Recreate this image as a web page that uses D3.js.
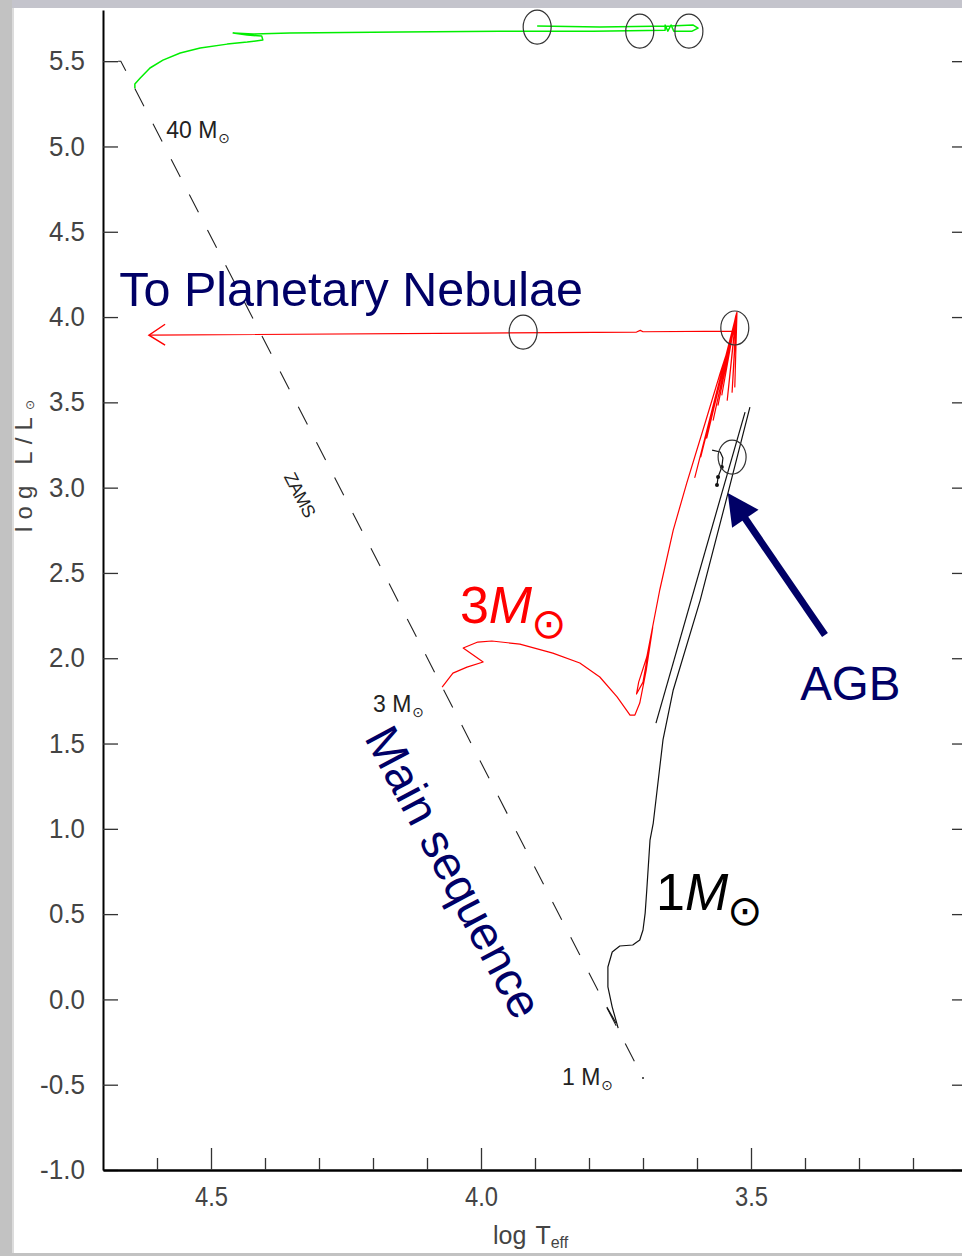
<!DOCTYPE html>
<html><head><meta charset="utf-8">
<script src="https://cdn.jsdelivr.net/npm/d3@7"></script>
<style>
html,body{margin:0;padding:0;background:#fff;}
svg{display:block;}
</style></head>
<body><svg id="c" width="962" height="1256"></svg>
<script>
// ---------- data (log Teff, log L/Lsun) ----------
const yTicks = [-1.0,-0.5,0.0,0.5,1.0,1.5,2.0,2.5,3.0,3.5,4.0,4.5,5.0,5.5];
const xMajorTicks = [4.5,4.0,3.5];
const xMinorTicks = [4.6,4.4,4.3,4.2,4.1,3.9,3.8,3.7,3.6,3.4,3.3,3.2];

const zams = [[4.672,5.5],[4.667,5.5],[3.700,-0.461]];

const greenTrack = [[4.641,5.342],[4.641,5.366],[4.631,5.401],[4.613,5.460],[4.589,5.506],[4.557,5.548],
  [4.520,5.577],[4.470,5.600],[4.433,5.612],[4.404,5.624],[4.406,5.647],[4.433,5.653],[4.459,5.665],
  [4.422,5.659],[4.354,5.665],[4.150,5.671],[3.965,5.676],[3.793,5.676],[3.659,5.682],[3.659,5.712],
  [3.654,5.676],[3.648,5.712],[3.643,5.676],[3.609,5.676],[3.598,5.694],[3.607,5.712],[3.650,5.706],
  [3.780,5.700],[3.896,5.706]];

const redTrack = [[4.072,1.831],[4.052,1.913],[4.026,1.948],[3.996,1.978],[4.033,2.060],[4.006,2.095],
  [3.980,2.101],[3.928,2.083],[3.867,2.030],[3.817,1.972],[3.780,1.890],[3.748,1.773],[3.724,1.667],
  [3.715,1.667],[3.706,1.737],[3.694,1.930],[3.682,2.180],[3.690,2.040],[3.700,1.860],[3.712,1.790],
  [3.708,1.860],[3.693,2.007],[3.669,2.400],[3.644,2.751],[3.619,3.027],[3.585,3.379],[3.557,3.672],
  [3.533,3.906],[3.526,4.029],
  [3.604,3.060],[3.527,4.015],[3.593,3.180],[3.528,4.006],[3.582,3.290],[3.527,4.020],[3.570,3.396],
  [3.528,4.010],[3.561,3.484],[3.527,4.020],[3.554,3.543],[3.528,4.006],[3.544,3.513],[3.527,4.020],
  [3.535,3.560],[3.526,4.025],[3.530,3.590],[3.526,4.029],
  [3.530,3.918],[3.700,3.914],[3.705,3.922],[3.712,3.912],[4.000,3.906],[4.613,3.894]];

const redArrowHead = [[4.585,3.958],[4.615,3.894],[4.585,3.836]];

const blackTrack = [[3.746,-0.168],[3.757,-0.045],[3.765,0.073],[3.765,0.190],[3.757,0.278],[3.743,0.313],
  [3.719,0.319],[3.706,0.348],[3.700,0.407],[3.696,0.506],[3.693,0.641],[3.687,0.934],[3.681,1.034],
  [3.663,1.521],[3.644,1.814],[3.594,2.341],[3.546,2.927],[3.502,3.472]];
const blackPreMS = [[3.767,-0.045],[3.750,-0.138]];
const blackAGB = [[3.676,1.620],[3.511,3.443]];
const blackHB = [[3.572,3.220],[3.557,3.209],[3.552,3.174],[3.554,3.121],[3.561,3.062],[3.563,3.015]];

const markers = [[3.896,5.700],[3.706,5.676],[3.615,5.676],[3.922,3.912],[3.530,3.936],[3.535,3.179]];

const massLabels = [{m:"40", t:4.583, l:5.049},{m:"3", t:4.200, l:1.685},{m:"1", t:3.850, l:-0.502}];

const agbArrow = {from:[3.363,2.136], to:[3.543,2.968]};

// ---------- scales ----------
const x = d3.scaleLinear().domain([4.7, 3.1]).range([103, 967]);
const y = d3.scaleLinear().domain([-1, 5.8]).range([1170, 10]);
const line = d3.line().x(d => x(d[0])).y(d => y(d[1]));

const svg = d3.select("#c");
const NAVY = "#000066";
const TICKFONT = "'Liberation Sans Narrow','Liberation Sans',sans-serif";
const ARIAL = "'Liberation Sans',Arial,sans-serif";

// ---------- axes ----------
const gl = svg.append("g").attr("transform", `translate(${x(4.7)},0)`)
  .call(d3.axisLeft(y).tickValues(yTicks).tickSize(-15).tickSizeOuter(0).tickPadding(18)
        .tickFormat(d => d.toFixed(1)));
gl.select(".domain").attr("stroke", "#000").attr("stroke-width", 2);
gl.selectAll(".tick line").attr("stroke", "#333").attr("stroke-width", 1.3);
gl.selectAll(".tick text").attr("font-family", TICKFONT).attr("font-size", 27).attr("fill", "#444")
  .attr("textLength", d => d < 0 ? 45 : 36).attr("lengthAdjust", "spacingAndGlyphs");

const gr = svg.append("g").attr("transform", `translate(${x(3.1)},0)`)
  .call(d3.axisRight(y).tickValues(yTicks).tickSize(-15).tickSizeOuter(0).tickFormat(""));
gr.selectAll(".tick line").attr("stroke", "#333").attr("stroke-width", 1.3);

const gbm = svg.append("g").attr("transform", `translate(0,${y(-1)})`)
  .call(d3.axisBottom(x).tickValues(xMinorTicks).tickSize(-12).tickSizeOuter(0).tickFormat(""));
gbm.select(".domain").attr("stroke", "#000").attr("stroke-width", 2.5);
gbm.selectAll(".tick line").attr("stroke", "#333").attr("stroke-width", 1.3);

const gb = svg.append("g").attr("transform", `translate(0,${y(-1)})`)
  .call(d3.axisBottom(x).tickValues(xMajorTicks).tickSize(-22).tickSizeOuter(0).tickPadding(17)
        .tickFormat(d => d.toFixed(1)));
gb.select(".domain").remove();
gb.selectAll(".tick line").attr("stroke", "#333").attr("stroke-width", 1.3);
gb.selectAll(".tick text").attr("font-family", TICKFONT).attr("font-size", 27).attr("fill", "#444")
  .attr("textLength", 33).attr("lengthAdjust", "spacingAndGlyphs");

// axis titles
const yl = svg.append("text").attr("transform", "translate(32,466) rotate(-90)")
  .attr("text-anchor", "middle").attr("font-family", TICKFONT).attr("font-size", 24).attr("fill", "#444")
  .attr("textLength", 132).attr("lengthAdjust", "spacing");
yl.append("tspan").text("log L/L");
yl.append("tspan").attr("font-family", "DejaVu Sans").attr("font-size", 12).attr("dy", 2).text("⊙");

const xl = svg.append("text").attr("x", 493).attr("y", 1244)
  .attr("font-family", TICKFONT).attr("font-size", 25).attr("fill", "#444");
xl.append("tspan").text("log");
xl.append("tspan").attr("dx", 9).text("T");
xl.append("tspan").attr("font-size", 16).attr("dy", 4).text("eff");

// ---------- ZAMS ----------
svg.append("path").datum(zams).attr("d", line).attr("fill", "none")
  .attr("stroke", "#222").attr("stroke-width", 1.1)
  .attr("stroke-dasharray", "20 19.76").attr("stroke-dashoffset", 6.4);
svg.append("circle").attr("cx", x(zams[2][0])).attr("cy", y(zams[2][1])).attr("r", 1).attr("fill", "#222");

svg.append("text").attr("transform", `translate(${x(4.335)},${y(2.957)}) rotate(62.8)`)
  .attr("text-anchor", "middle").attr("dy", "0.35em")
  .attr("font-family", TICKFONT).attr("font-size", 18).attr("fill", "#222")
  .attr("textLength", 48).attr("lengthAdjust", "spacing").text("ZAMS");

massLabels.forEach(d => {
  const t = svg.append("text").attr("x", x(d.t)).attr("y", y(d.l))
    .attr("font-family", TICKFONT).attr("font-size", 23).attr("fill", "#222");
  t.append("tspan").text(d.m + " M");
  t.append("tspan").attr("font-family", "DejaVu Sans").attr("font-size", 14).attr("dx", 1).attr("dy", 5).text("⊙");
});

// ---------- tracks ----------
svg.append("path").datum(greenTrack).attr("d", line).attr("fill", "none")
  .attr("stroke", "#00ee00").attr("stroke-width", 1.5).attr("stroke-linejoin", "round");

svg.append("path").datum(redTrack).attr("d", line).attr("fill", "none")
  .attr("stroke", "#ff0000").attr("stroke-width", 1.2).attr("stroke-linejoin", "round");
svg.append("path").datum(redArrowHead).attr("d", line).attr("fill", "none")
  .attr("stroke", "#ff0000").attr("stroke-width", 1.4);

[blackTrack, blackPreMS, blackAGB, blackHB].forEach(seg => {
  svg.append("path").datum(seg).attr("d", line).attr("fill", "none")
    .attr("stroke", "#111").attr("stroke-width", 1.2).attr("stroke-linejoin", "round");
});
svg.selectAll("circle.hbdot").data(blackHB.slice(3)).enter().append("circle").attr("class", "hbdot")
  .attr("cx", d => x(d[0])).attr("cy", d => y(d[1])).attr("r", 2).attr("fill", "#111");

svg.selectAll("ellipse.mark").data(markers).enter().append("ellipse").attr("class", "mark")
  .attr("cx", d => x(d[0])).attr("cy", d => y(d[1])).attr("rx", 14).attr("ry", 17)
  .attr("fill", "none").attr("stroke", "#333").attr("stroke-width", 1.2);

// ---------- annotations ----------
svg.append("text").attr("x", x(4.670)).attr("y", y(4.065))
  .attr("font-family", ARIAL).attr("font-size", 48.5).attr("fill", NAVY)
  .text("To Planetary Nebulae");

svg.append("text").attr("transform", `translate(${x(4.050)},${y(0.747)}) rotate(62)`)
  .attr("text-anchor", "middle").attr("dy", "0.35em")
  .attr("font-family", ARIAL).attr("font-size", 47.5).attr("fill", NAVY)
  .text("Main sequence");

svg.append("text").attr("x", x(3.409)).attr("y", y(1.755))
  .attr("font-family", ARIAL).attr("font-size", 47.5).attr("fill", NAVY)
  .text("AGB");

function massText(px, py, color, num) {
  const t = svg.append("text").attr("x", px).attr("y", py)
    .attr("font-family", ARIAL).attr("font-size", 52).attr("fill", color);
  t.append("tspan").text(num);
  t.append("tspan").attr("font-style", "italic").text("M");
  t.append("tspan").attr("font-family", "DejaVu Sans").attr("font-size", 42).attr("dx", -1).attr("dy", 15).text("⊙");
}
massText(x(4.039), y(2.206), "#ff0000", "3");
massText(x(3.676), y(0.524), "#000000", "1");

// AGB arrow
(function(){
  const x1 = x(agbArrow.from[0]), y1 = y(agbArrow.from[1]);
  const x2 = x(agbArrow.to[0]), y2 = y(agbArrow.to[1]);
  const dx = x2 - x1, dy = y2 - y1, len = Math.hypot(dx, dy);
  const ux = dx / len, uy = dy / len, hl = 31, hw = 16;
  const bx = x2 - ux * hl, by = y2 - uy * hl;
  svg.append("line").attr("x1", x1).attr("y1", y1).attr("x2", bx + ux * 2).attr("y2", by + uy * 2)
    .attr("stroke", NAVY).attr("stroke-width", 7);
  svg.append("path").attr("d", `M${x2},${y2}L${bx - uy * hw},${by + ux * hw}L${bx + uy * hw},${by - ux * hw}Z`)
    .attr("fill", NAVY);
})();

// ---------- frame ----------
svg.append("rect").attr("x", 0).attr("y", 0).attr("width", 962).attr("height", 8).attr("fill", "#c4c4cc");
svg.append("rect").attr("x", 0).attr("y", 0).attr("width", 12).attr("height", 1256).attr("fill", "#c2c2c2");
svg.append("rect").attr("x", 12).attr("y", 8).attr("width", 2).attr("height", 1248).attr("fill", "#dcdcdc");
svg.append("rect").attr("x", 0).attr("y", 1253).attr("width", 962).attr("height", 3).attr("fill", "#c2c2c2");
</script>
</body></html>
